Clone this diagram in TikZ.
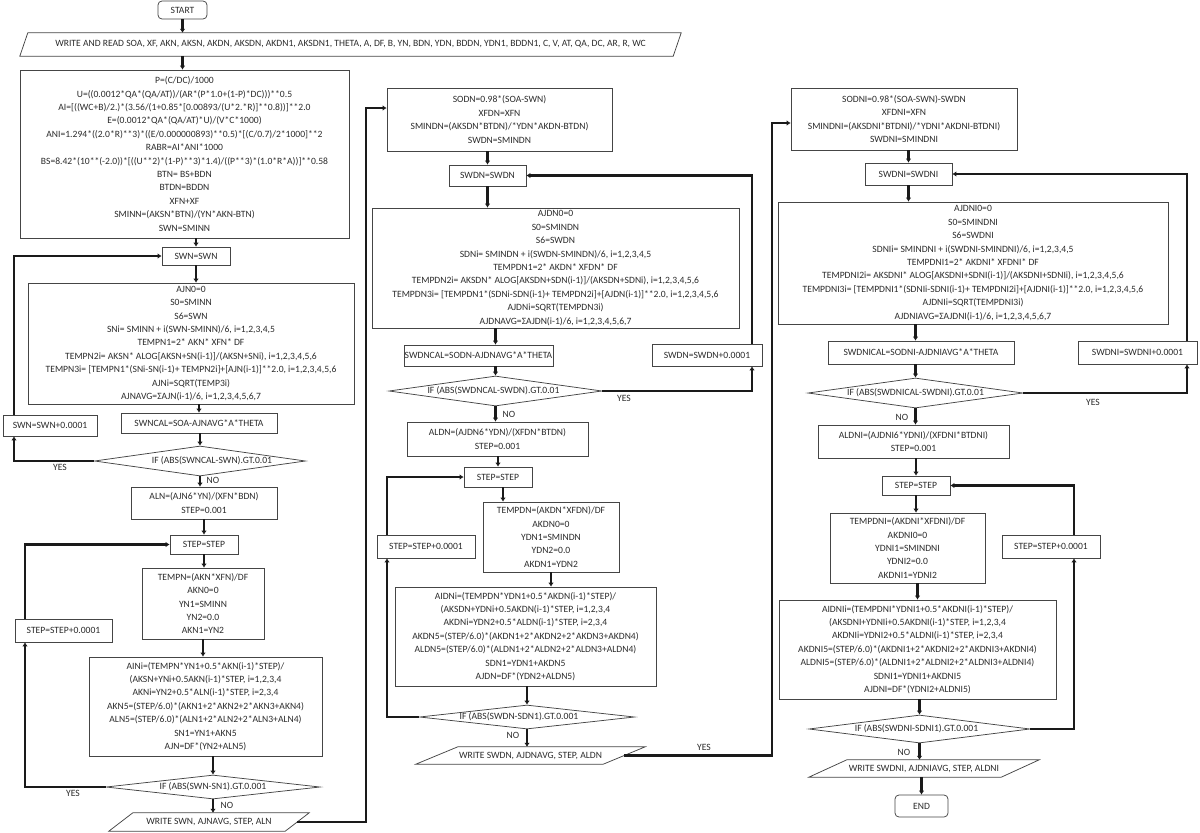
\documentclass[tikz,border=0pt]{standalone}
\usepackage{fontspec}
\setmainfont{Carlito}
\usetikzlibrary{arrows.meta,shapes.geometric,calc}
\definecolor{txt}{HTML}{2B2B2B}
\definecolor{bd}{HTML}{454545}
\definecolor{cn}{HTML}{1A1A1A}
\newcommand\drawpara[2]{%
  \draw[bord] ($(#1.north west)+(#2,0)$) -- ($(#1.north east)+(#2,0)$) -- ($(#1.south east)-(#2,0)$) -- ($(#1.south west)-(#2,0)$) -- cycle;}
\begin{document}
\begin{tikzpicture}[x=1pt,y=-1pt,
  every node/.style={font=\fontsize{9.6}{13.4}\selectfont, text=txt},
  bord/.style={draw=bd, line width=0.75pt},
  box/.style={bord, rectangle, align=center, inner sep=0pt},
  rbox/.style={box, rounded corners=4pt},
  dia/.style={diamond, bord, inner sep=0pt},
  plain/.style={rectangle, align=center, inner sep=0pt},
  conn/.style={line width=2.4pt, draw=cn},
  arr/.style={conn, -{Latex[length=4pt,width=5.5pt]}},
  lbl/.style={inner sep=0pt}]
\useasboundingbox (0,0) rectangle (1200,833);

% ---------------- left column ----------------
\node[rbox, minimum width=49pt, minimum height=18pt] (start) at (182.5,10) {START};
\node[plain, minimum width=653pt, minimum height=23pt] (rw) at (350.5,44.5)
  {WRITE AND READ SOA, XF, AKN, AKSN, AKDN, AKSDN, AKDN1, AKSDN1, THETA, A, DF, B, YN, BDN, YDN, BDDN, YDN1, BDDN1, C, V, AT, QA, DC, AR, R, WC};
\drawpara{rw}{4}
\node[box, minimum width=329pt, minimum height=168pt] (p1) at (184.5,154) {P=(C/DC)/1000\\
U=((0.0012*QA*(QA/AT))/(AR*(P*1.0+(1-P)*DC)))**0.5\\
AI=[((WC+B)/2.)*(3.56/(1+0.85*[0.00893/(U*2.*R)]**0.8))]**2.0\\
E=(0.0012*QA*(QA/AT)*U)/(V*C*1000)\\
ANI=1.294*((2.0*R)**3)*((E/0.000000893)**0.5)*[(C/0.7)/2*1000]**2\\
RABR=AI*ANI*1000\\
BS=8.42*(10**(-2.0))*[((U**2)*(1-P)**3)*1.4)/((P**3)*(1.0*R*A))]**0.58\\
BTN= BS+BDN\\
BTDN=BDDN\\
XFN+XF\\
SMINN=(AKSN*BTN)/(YN*AKN-BTN)\\
SWN=SMINN};
\node[box, minimum width=68pt, minimum height=18pt] (swn) at (196,256) {SWN=SWN};
\node[box, minimum width=326pt, minimum height=121pt] (ajn) at (191,343.5) {AJN0=0\\
S0=SMINN\\
S6=SWN\\
SNi= SMINN + i(SWN-SMINN)/6, i=1,2,3,4,5\\
TEMPN1=2* AKN* XFN* DF\\
TEMPN2i= AKSN* ALOG[AKSN+SN(i-1)]/(AKSN+SNi), i=1,2,3,4,5,6\\
TEMPN3i= [TEMPN1*(SNi-SN(i-1)+ TEMPN2i]+[AJN(i-1)]**2.0, i=1,2,3,4,5,6\\
AJNi=SQRT(TEMP3i)\\
AJNAVG=ΣAJN(i-1)/6, i=1,2,3,4,5,6,7};
\node[box, minimum width=156pt, minimum height=20pt] (swncal) at (199,423) {SWNCAL=SOA-AJNAVG*A*THETA};
\node[box, minimum width=94pt, minimum height=21pt] (swnp) at (50,425.5) {SWN=SWN+0.0001};
\node[dia, minimum width=211pt, minimum height=30pt] (d1) at (200,461) {};
\node[plain] (d1t) at ([xshift=12pt]d1.center) {IF (ABS(SWNCAL-SWN).GT.0.01};
\node[box, minimum width=146pt, minimum height=32pt] (ald) at (204,503) {ALN=(AJN6*YN)/(XFN*BDN)\\STEP=0.001};
\node[box, minimum width=68pt, minimum height=19pt] (stp1) at (204,544.5) {STEP=STEP};
\node[box, minimum width=122pt, minimum height=71pt] (tempn) at (203,603.5) {TEMPN=(AKN*XFN)/DF\\AKN0=0\\YN1=SMINN\\YN2=0.0\\AKN1=YN2};
\node[box, minimum width=97pt, minimum height=23pt] (stpp1) at (63.5,630.5) {STEP=STEP+0.0001};
\node[box, minimum width=233pt, minimum height=99pt] (aini) at (205.5,706.5) {AINi=(TEMPN*YN1+0.5*AKN(i-1)*STEP)/\\
(AKSN+YNi+0.5AKN(i-1)*STEP, i=1,2,3,4\\
AKNi=YN2+0.5*ALN(i-1)*STEP, i=2,3,4\\
AKN5=(STEP/6.0)*(AKN1+2*AKN2+2*AKN3+AKN4)\\
ALN5=(STEP/6.0)*(ALN1+2*ALN2+2*ALN3+ALN4)\\
SN1=YN1+AKN5\\
AJN=DF*(YN2+ALN5)};
\node[dia, minimum width=214pt, minimum height=24pt] (d3) at (213,787) {};
\node[plain] (d3t) at (d3.center) {IF (ABS(SWN-SN1).GT.0.001};
\node[plain, minimum width=176pt, minimum height=18pt] (w1) at (209,822) {WRITE SWN, AJNAVG, STEP, ALN};
\drawpara{w1}{12}

% ---------------- middle column ----------------
\node[box, minimum width=225pt, minimum height=63pt] (sodn) at (499.5,119.5) {SODN=0.98*(SOA-SWN)\\XFDN=XFN\\SMINDN=(AKSDN*BTDN)/*YDN*AKDN-BTDN)\\SWDN=SMINDN};
\node[box, minimum width=77pt, minimum height=21pt] (swdn) at (487.5,175.5) {SWDN=SWDN};
\node[box, minimum width=367pt, minimum height=120pt] (ajdn) at (555.5,268) {AJDN0=0\\
S0=SMINDN\\
S6=SWDN\\
SDNi= SMINDN + i(SWDN-SMINDN)/6, i=1,2,3,4,5\\
TEMPDN1=2* AKDN* XFDN* DF\\
TEMPDN2i= AKSDN* ALOG[AKSDN+SDN(i-1)]/(AKSDN+SDNi), i=1,2,3,4,5,6\\
TEMPDN3i= [TEMPDN1*(SDNi-SDN(i-1)+ TEMPDN2i]+[AJDN(i-1)]**2.0, i=1,2,3,4,5,6\\
AJDNi=SQRT(TEMPDN3i)\\
AJDNAVG=ΣAJDN(i-1)/6, i=1,2,3,4,5,6,7};
\node[box, minimum width=149pt, minimum height=21pt] (swdncal) at (478.5,355.5) {SWDNCAL=SODN-AJDNAVG*A*THETA};
\node[box, minimum width=110pt, minimum height=22pt] (swdnp) at (707,355) {SWDN=SWDN+0.0001};
\node[dia, minimum width=213pt, minimum height=30pt] (d2) at (495.5,391) {};
\node[plain] (d2t) at ([xshift=-2pt]d2.center) {IF (ABS(SWDNCAL-SWDN).GT.0.01};
\node[box, minimum width=181pt, minimum height=34pt] (aldn) at (497.5,439) {ALDN=(AJDN6*YDN)/(XFDN*BTDN)\\STEP=0.001};
\node[box, minimum width=68pt, minimum height=20pt] (stp2) at (498,477) {STEP=STEP};
\node[box, minimum width=136pt, minimum height=70pt] (tempdn) at (551,537) {TEMPDN=(AKDN*XFDN)/DF\\AKDN0=0\\YDN1=SMINDN\\YDN2=0.0\\AKDN1=YDN2};
\node[box, minimum width=98pt, minimum height=23pt] (stpp2) at (426,546.5) {STEP=STEP+0.0001};
\node[box, minimum width=261pt, minimum height=99pt] (aidn) at (525.5,636.5) {AIDNi=(TEMPDN*YDN1+0.5*AKDN(i-1)*STEP)/\\
(AKSDN+YDNi+0.5AKDN(i-1)*STEP, i=1,2,3,4\\
AKDNi=YDN2+0.5*ALDN(i-1)*STEP, i=2,3,4\\
AKDN5=(STEP/6.0)*(AKDN1+2*AKDN2+2*AKDN3+AKDN4)\\
ALDN5=(STEP/6.0)*(ALDN1+2*ALDN2+2*ALDN3+ALDN4)\\
SDN1=YDN1+AKDN5\\
AJDN=DF*(YDN2+ALDN5)};
\node[dia, minimum width=215pt, minimum height=24pt] (d4) at (527,717) {};
\node[plain] (d4t) at ([xshift=-8pt]d4.center) {IF (ABS(SWDN-SDN1).GT.0.001};
\node[plain, minimum width=187pt, minimum height=17pt] (w2) at (530.5,755.5) {WRITE SWDN, AJDNAVG, STEP, ALDN};
\drawpara{w2}{21}

% ---------------- right column ----------------
\node[box, minimum width=226pt, minimum height=62pt] (sodni) at (904,119) {SODNI=0.98*(SOA-SWN)-SWDN\\XFDNI=XFN\\SMINDNI=(AKSDNI*BTDNI)/*YDNI*AKDNI-BTDNI)\\SWDNI=SMINDNI};
\node[box, minimum width=87pt, minimum height=22pt] (swdni) at (908.5,174) {SWDNI=SWDNI};
\node[box, minimum width=390pt, minimum height=122pt] (ajdni) at (973,263) {AJDNI0=0\\
S0=SMINDNI\\
S6=SWDNI\\
SDNIi= SMINDNI + i(SWDNI-SMINDNI)/6, i=1,2,3,4,5\\
TEMPDNI1=2* AKDNI* XFDNI* DF\\
TEMPDNI2i= AKSDNI* ALOG[AKSDNI+SDNI(i-1)]/(AKSDNI+SDNIi), i=1,2,3,4,5,6\\
TEMPDNI3i= [TEMPDNI1*(SDNIi-SDNI(i-1)+ TEMPDNI2i]+[AJDNI(i-1)]**2.0, i=1,2,3,4,5,6\\
AJDNIi=SQRT(TEMPDNI3i)\\
AJDNIAVG=ΣAJDNI(i-1)/6, i=1,2,3,4,5,6,7};
\node[box, minimum width=186pt, minimum height=23pt] (swdnical) at (921,352.5) {SWDNICAL=SODNI-AJDNIAVG*A*THETA};
\node[box, minimum width=119pt, minimum height=23pt] (swdnip) at (1137.5,352.5) {SWDNI=SWDNI+0.0001};
\node[dia, minimum width=215pt, minimum height=30pt] (d5) at (915.5,393) {};
\node[plain] (d5t) at (d5.center) {IF (ABS(SWDNICAL-SWDNI).GT.0.01};
\node[box, minimum width=191pt, minimum height=33pt] (aldni) at (913.5,441.5) {ALDNI=(AJDNI6*YDNI)/(XFDNI*BTDNI)\\STEP=0.001};
\node[box, minimum width=68pt, minimum height=19pt] (stp3) at (916,485.5) {STEP=STEP};
\node[box, minimum width=155pt, minimum height=70pt] (tempdni) at (907.5,548) {TEMPDNI=(AKDNI*XFDNI)/DF\\AKDNI0=0\\YDNI1=SMINDNI\\YDNI2=0.0\\AKDNI1=YDNI2};
\node[box, minimum width=98pt, minimum height=23pt] (stpp3) at (1051,546.5) {STEP=STEP+0.0001};
\node[box, minimum width=277pt, minimum height=99pt] (aidni) at (917.5,649.5) {AIDNIi=(TEMPDNI*YDNI1+0.5*AKDNI(i-1)*STEP)/\\
(AKSDNI+YDNIi+0.5AKDNI(i-1)*STEP, i=1,2,3,4\\
AKDNIi=YDNI2+0.5*ALDNI(i-1)*STEP, i=2,3,4\\
AKDNI5=(STEP/6.0)*(AKDNI1+2*AKDNI2+2*AKDNI3+AKDNI4)\\
ALDNI5=(STEP/6.0)*(ALDNI1+2*ALDNI2+2*ALDNI3+ALDNI4)\\
SDNI1=YDNI1+AKDNI5\\
AJDNI=DF*(YDNI2+ALDNI5)};
\node[dia, minimum width=221pt, minimum height=28pt] (d6) at (919.5,729) {};
\node[plain] (d6t) at ([xshift=-3pt]d6.center) {IF (ABS(SWDNI-SDNI1).GT.0.001};
\node[plain, minimum width=192pt, minimum height=17pt] (w3) at (924,768.5) {WRITE SWDNI, AJDNIAVG, STEP, ALDNI};
\drawpara{w3}{19}
\node[rbox, minimum width=53pt, minimum height=22pt] (end) at (921.5,806) {END};

% ---------------- labels ----------------
\node[lbl] (y1) at (60,467) {YES};
\node[lbl] (n1) at (213,480) {NO};
\node[lbl] (y3) at (73,793) {YES};
\node[lbl] (n3) at (227,805) {NO};
\node[lbl] (y2) at (624,398) {YES};
\node[lbl] (n2) at (509,414) {NO};
\node[lbl] (n4) at (513,735) {NO};
\node[lbl] (y4) at (704,747) {YES};
\node[lbl] (y5) at (1093,402) {YES};
\node[lbl] (n5) at (902,417) {NO};
\node[lbl] (n6) at (904,752) {NO};

% ---------------- coordinates ----------------
\coordinate (lx1) at (14,0);
\coordinate (lx3) at (25,0);
\coordinate (mx1) at (366,108);
\coordinate (sodnin) at ([yshift=11.5pt]sodn.west);
\coordinate (rx2) at (752,0);
\coordinate (lx4) at (387,0);
\coordinate (mx2) at (772,123);
\coordinate (sodniin) at ([yshift=-4pt]sodni.west);
\coordinate (rx5) at (1187,0);
\coordinate (rx6) at (1074,0);
\coordinate (c19) at ($(stp2.south)+(5,0)$);

% ---------------- vertical flow ----------------
\draw[arr] (start.south) -- (start.south |- rw.north);
\draw[arr] (start.south |- rw.south) -- (start.south |- p1.north);
\draw[arr] (swn.north |- p1.south) -- (swn.north);
\draw[arr] (swn.south) -- (swn.south |- ajn.north);
\draw[arr] (swncal.north |- ajn.south) -- (swncal.north);
\draw[arr] (d1.north |- swncal.south) -- (d1.north);
\draw[arr] (d1.south) -- (d1.south |- ald.north);
\draw[arr] (stp1.north |- ald.south) -- (stp1.north);
\draw[arr] (stp1.south) -- (stp1.south |- tempn.north);
\draw[arr] (tempn.south) -- (tempn.south |- aini.north);
\draw[arr] (d3.north |- aini.south) -- (d3.north);
\draw[arr] (d3.south) -- (d3.south |- w1.north);

\draw[arr] (swdn.north |- sodn.south) -- (swdn.north);
\draw[arr] (swdn.south) -- (swdn.south |- ajdn.north);
\draw[arr] (d2.north |- ajdn.south) -- (d2.north |- swdncal.north);
\draw[arr] (d2.north |- swdncal.south) -- (d2.north);
\draw[arr] (d2.south) -- (d2.south |- aldn.north);
\draw[arr] (stp2.north |- aldn.south) -- (stp2.north);
\draw[arr] (c19) -- (c19 |- tempdn.north);
\draw[arr] (tempdn.south) -- (tempdn.south |- aidn.north);
\draw[arr] (d4.north |- aidn.south) -- (d4.north);
\draw[arr] (d4.south) -- (d4.south |- w2.north);

\draw[arr] (swdni.north |- sodni.south) -- (swdni.north);
\draw[arr] (swdni.south) -- (swdni.south |- ajdni.north);
\draw[arr] (d5.north |- ajdni.south) -- (d5.north |- swdnical.north);
\draw[arr] (d5.north |- swdnical.south) -- (d5.north);
\draw[arr] (d5.south) -- (d5.south |- aldni.north);
\draw[arr] (stp3.north |- aldni.south) -- (stp3.north);
\draw[arr] (stp3.south) -- (stp3.south |- tempdni.north);
\draw[arr] (aidni.north |- tempdni.south) -- (aidni.north);
\draw[arr] (d6.north |- aidni.south) -- (d6.north);
\draw[arr] (d6.south) -- (d6.south |- w3.north);
\draw[arr] (end.north |- w3.south) -- (end.north);

% ---------------- loops ----------------
\draw[arr] (d1.west) -| (lx1 |- swnp.south);
\draw[arr] (lx1 |- swnp.north) |- (swn.west);
\draw[arr] (d3.west) -| (lx3 |- stpp1.south);
\draw[arr] (lx3 |- stpp1.north) |- (stp1.west);
\draw[arr] (w1.east) -| (mx1) -- (sodnin);

\draw[arr] (d2.east) -| (rx2 |- swdnp.south);
\draw[arr] (rx2 |- swdnp.north) |- (swdn.east);
\draw[arr] (d4.west) -| (lx4 |- stpp2.south);
\draw[arr] (lx4 |- stpp2.north) |- (stp2.west);
\draw[arr] (w2.east) -| (mx2) -- (sodniin);

\draw[arr] (d5.east) -| (rx5 |- swdnip.south);
\draw[arr] (rx5 |- swdnip.north) |- (swdni.east);
\draw[arr] (d6.east) -| (rx6 |- stpp3.south);
\draw[arr] (rx6 |- stpp3.north) |- (stp3.east);
\end{tikzpicture}
\end{document}
